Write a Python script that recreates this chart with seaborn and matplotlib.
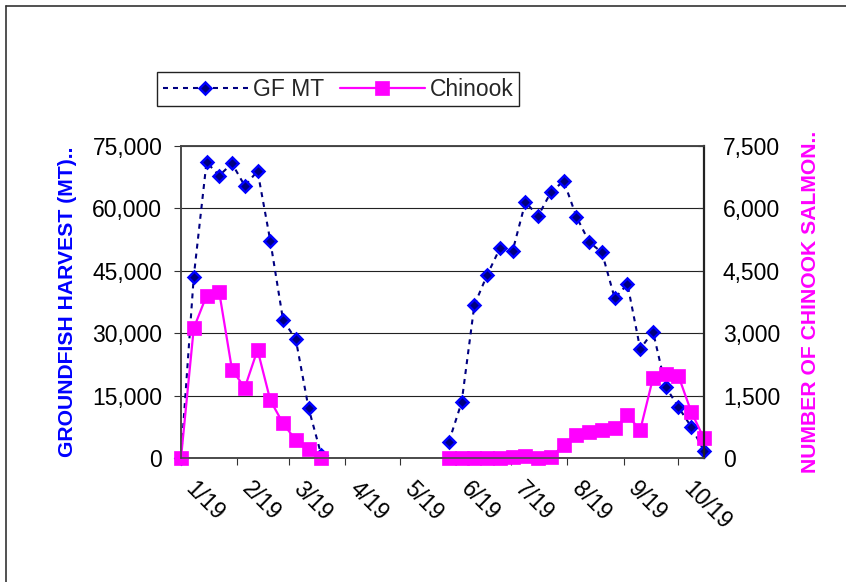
import pandas as pd
import matplotlib
matplotlib.use('Agg')
import matplotlib.pyplot as plt
import matplotlib.ticker as mticker
from matplotlib.lines import Line2D
import seaborn as sns

# weekly dates, winter fishery then summer/fall fishery
dates_a = ['2019-01-01', '2019-01-08', '2019-01-15', '2019-01-22', '2019-01-29', '2019-02-05',
           '2019-02-12', '2019-02-19', '2019-02-26', '2019-03-05', '2019-03-12', '2019-03-19']
dates_b = ['2019-05-28', '2019-06-04', '2019-06-11', '2019-06-18', '2019-06-25', '2019-07-02',
           '2019-07-09', '2019-07-16', '2019-07-23', '2019-07-30', '2019-08-06', '2019-08-13',
           '2019-08-20', '2019-08-27', '2019-09-03', '2019-09-10', '2019-09-17', '2019-09-24',
           '2019-10-01', '2019-10-08', '2019-10-15']

# groundfish harvest (MT)
gf_a = [0, 43600, 71100, 67900, 70800, 65400, 69000, 52200, 33200, 28500, 12000, 700]
gf_b = [3900, 13400, 36800, 44000, 50400, 49800, 61500, 58200, 63900, 66600, 58000,
        51900, 49400, 38400, 41800, 26200, 30400, 17100, 12200, 7500, 1700]

# number of chinook salmon
chinook_a = [0, 3120, 3900, 3980, 2120, 1690, 2600, 1390, 830, 430, 210, 0]
chinook_b = [0, 0, 0, 0, 10, 20, 60, 10, 20, 310, 550, 630, 670, 710, 1030, 670,
             1920, 2010, 1970, 1110, 470]

month_ticks = ['2019-01-01', '2019-02-01', '2019-03-01', '2019-04-01', '2019-05-01',
               '2019-06-01', '2019-07-01', '2019-08-01', '2019-09-01', '2019-10-01']
month_labels = ['1/19', '2/19', '3/19', '4/19', '5/19', '6/19', '7/19', '8/19', '9/19', '10/19']

df = pd.DataFrame({
    'date': pd.to_datetime(dates_a + dates_b),
    'gf': gf_a + gf_b,
    'chinook': chinook_a + chinook_b,
    'season': ['a'] * len(dates_a) + ['b'] * len(dates_b),
})

sns.set_theme(style='white')
plt.rcParams['font.family'] = ['Liberation Sans', 'DejaVu Sans']

fig = plt.figure(figsize=(8.46, 5.82), dpi=100)
ax = fig.add_axes([181 / 846, 1 - 458 / 582, 523 / 846, 312 / 582])
ax2 = ax.twinx()

sns.lineplot(data=df, x='date', y='gf', units='season', estimator=None, ax=ax,
             color='#000080', linestyle=(0, (2.4, 2.4)), linewidth=1.5,
             marker='D', markersize=6.5, markerfacecolor='#000080',
             markeredgecolor='#0000FF', markeredgewidth=1.8, clip_on=False)
sns.lineplot(data=df, x='date', y='chinook', units='season', estimator=None, ax=ax2,
             color='#FF00FF', linewidth=1.6,
             marker='s', markersize=10, markerfacecolor='#FF00FF',
             markeredgecolor='#FF00FF', markeredgewidth=0.5, clip_on=False)

ax.set_xlim(pd.Timestamp('2019-01-01'), pd.Timestamp('2019-10-15'))
ax.set_ylim(0, 75000)
ax2.set_ylim(0, 7500)
ax.set_yticks(range(0, 75001, 15000))
ax2.set_yticks(range(0, 7501, 1500))
ax.yaxis.set_major_formatter(mticker.StrMethodFormatter('{x:,.0f}'))
ax2.yaxis.set_major_formatter(mticker.StrMethodFormatter('{x:,.0f}'))

ax.set_xticks(pd.to_datetime(month_ticks))
ax.set_xticklabels(month_labels, rotation=-45, ha='left', va='top')

ax.grid(axis='y', color='#222222', linewidth=0.8)
ax.set_axisbelow(True)

ax.tick_params(axis='y', direction='out', length=5, width=0.8, pad=8.5,
               labelsize=16.5, colors='#333333', labelcolor='black', left=True)
ax.tick_params(axis='x', direction='out', length=5, width=0.8, pad=9,
               labelsize=16.5, colors='#333333', labelcolor='black', bottom=True)
ax2.tick_params(axis='y', direction='in', length=4, width=0.8, pad=13.5,
                labelsize=16.5, colors='#333333', labelcolor='black', right=True)

for a in (ax, ax2):
    for s in a.spines.values():
        s.set_color('#444444')
        s.set_linewidth(1.1)
ax2.spines['right'].set_color('#222222')
ax2.spines['right'].set_linewidth(1.6)

ax.set_xlabel('')
ax.set_ylabel('GROUNDFISH HARVEST (MT)..', color='#0000FF', fontsize=15.2, fontweight='bold')
ax2.set_ylabel('NUMBER OF CHINOOK SALMON..', color='#FF00FF', fontsize=15.2, fontweight='bold')
ax.yaxis.set_label_coords(-0.198, 0.5)
ax2.yaxis.set_label_coords(1.186, 0.5)

handles = [ax.get_lines()[0], ax2.get_lines()[0]]
fig.legend(handles, ['GF MT', 'Chinook'], loc='upper left',
           bbox_to_anchor=(157 / 846, 1 - 72 / 582), ncol=2, fontsize=16.5,
           frameon=True, fancybox=False, edgecolor='#222222', framealpha=1,
           borderaxespad=0, handlelength=3.7, handletextpad=0.22, columnspacing=0.7,
           borderpad=0.25)

# outer chart border
fig.add_artist(Line2D([5.5 / 846, 5.5 / 846], [0, 1 - 5.5 / 582], transform=fig.transFigure,
                      color='#333333', linewidth=1.2))
fig.add_artist(Line2D([5.5 / 846, 1], [1 - 5.5 / 582, 1 - 5.5 / 582], transform=fig.transFigure,
                      color='#333333', linewidth=1.2))

fig.savefig('out.png', dpi=100)
